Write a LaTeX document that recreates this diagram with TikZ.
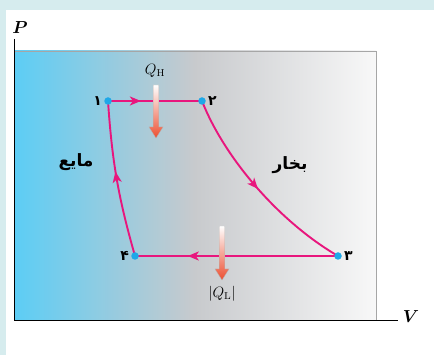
\documentclass[tikz,border=0pt]{standalone}
\usepackage{amsmath}
\usepackage{fontspec}
\usetikzlibrary{arrows.meta,decorations.markings}
\TeXXeTstate=1
\newfontfamily\farsi[Script=Arabic]{DejaVu Sans}
\definecolor{framecyan}{RGB}{214,236,238}
\definecolor{liqblue}{RGB}{92,205,245}
\definecolor{midgray}{RGB}{200,202,205}
\definecolor{vapwhite}{RGB}{248,248,248}
\definecolor{cyclepink}{RGB}{232,22,125}
\definecolor{dotblue}{RGB}{30,168,232}
\definecolor{heatred}{RGB}{236,78,48}

\begin{document}
\begin{tikzpicture}[x=1pt,y=1pt,
  dot/.style={circle,fill=dotblue,inner sep=0pt,minimum size=7.5pt},
  cyclepath/.style={cyclepink,line width=1.9pt},
  flow/.style={postaction={decorate},decoration={markings,
      mark=at position #1 with {\arrow{Stealth[length=11pt,width=9pt,inset=3pt]}}}},
  num/.style={font=\farsi\fontsize{14}{16}\selectfont\bfseries,inner sep=2pt},
  phase/.style={font=\farsi\fontsize{17}{19}\selectfont\bfseries},
  heat/.style={top color=white,bottom color=heatred,draw=gray!60,line width=0.3pt},
  qlabel/.style={font=\fontsize{12}{14}\selectfont,scale=1.25},
  axlabel/.style={font=\fontsize{12}{14}\selectfont,scale=1.45}]
% frame
\fill[framecyan] (0,0) rectangle (434,355);
\fill[white] (6,0) rectangle (434,345);
\useasboundingbox (0,0) rectangle (434,355);
% region
\shade[left color=liqblue,right color=vapwhite,middle color=midgray] (14,35) rectangle (376,304);
\draw[gray!70,line width=0.7pt] (14,304) -- (376,304) -- (376,35);
% axes
\coordinate (o) at (14,35);
\coordinate (ptop) at (14,316);
\coordinate (vend) at (398,35);
\draw[line width=0.8pt] (ptop) -- (o) -- (vend);
\node[axlabel] (plab) at (20,327) {$\boldsymbol{P}$};
\node[axlabel] (vlab) at (411,38) {$\boldsymbol{V}$};
% cycle
\coordinate (p1) at (108,254);
\coordinate (p2) at (202,254);
\coordinate (p3) at (338,99);
\coordinate (p4) at (135,99);
\draw[cyclepath,flow=0.35] (p1) -- (p2);
\draw[cyclepath,flow=0.5] (p2) .. controls (224,198) and (278,134) .. (p3);
\draw[cyclepath,flow=0.74] (p3) -- (p4);
\draw[cyclepath,flow=0.55] (p4) to[bend left=6] (p1);
\node[dot,label={[num]left:۱}] (d1) at (p1) {};
\node[dot,label={[num]right:۲}] (d2) at (p2) {};
\node[dot,label={[num]right:۳}] (d3) at (p3) {};
\node[dot,label={[num]left:۴}] (d4) at (p4) {};
% phases
\node[phase] (liq) at (76,193) {\beginR مایع\endR};
\node[phase] (vap) at (290,190) {\beginR بخار\endR};
% heat
\shade[heat,shift={(156,270)}] (-2.8,0) -- (-2.8,-42) -- (-7,-42) -- (0,-53)
  -- (7,-42) -- (2.8,-42) -- (2.8,0) -- cycle;
\node[qlabel] (qh) at (155,284) {$Q_{\mathrm{H}}$};
\shade[heat,shift={(222,129)}] (-2.8,0) -- (-2.8,-43) -- (-7,-43) -- (0,-54)
  -- (7,-43) -- (2.8,-43) -- (2.8,0) -- cycle;
\node[qlabel] (ql) at (222,61) {$\left|Q_{\mathrm{L}}\right|$};
\end{tikzpicture}
\end{document}
